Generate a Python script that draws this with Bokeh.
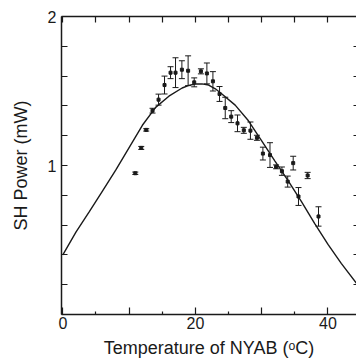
from bokeh.plotting import figure
from bokeh.models import (ColumnDataSource, Whisker, TeeHead, FixedTicker,
                          LinearAxis, Range1d)
from bokeh.embed import file_html
from bokeh.resources import INLINE

# Measured SH power data (temperature in degC, power in mW, error in mW)
temp = [10.93, 11.83, 12.58, 13.53, 14.44, 15.34, 16.25, 17.0, 17.96, 18.9,
        19.82, 20.83, 21.73, 22.64, 23.64, 24.5, 25.4, 26.35, 27.3, 28.3,
        29.28, 30.18, 31.25, 32.17, 33.05, 33.92, 34.75, 35.55, 36.93, 38.57]
power = [0.948, 1.118, 1.239, 1.368, 1.442, 1.54, 1.623, 1.623, 1.643, 1.636,
         1.558, 1.632, 1.618, 1.565, 1.48, 1.386, 1.328, 1.283, 1.236, 1.234,
         1.186, 1.08, 1.07, 0.991, 0.962, 0.892, 1.016, 0.792, 0.933, 0.658]
err = [0.008, 0.01, 0.008, 0.016, 0.037, 0.06, 0.04, 0.10, 0.06, 0.10,
       0.03, 0.017, 0.07, 0.065, 0.05, 0.072, 0.04, 0.056, 0.02, 0.058,
       0.017, 0.043, 0.083, 0.013, 0.028, 0.037, 0.046, 0.06, 0.021, 0.065]

# Theoretical curve
fit_temp = [0, 2, 4, 6, 8, 10, 12, 14, 16, 18, 19, 20, 21, 22, 23, 24, 26,
            28, 30, 32, 34, 36, 38, 40, 42, 44.3]
fit_power = [0.40, 0.555, 0.69, 0.83, 0.97, 1.12, 1.27, 1.39, 1.465, 1.52,
             1.538, 1.547, 1.548, 1.54, 1.515, 1.48, 1.405, 1.30, 1.165, 1.03,
             0.897, 0.757, 0.61, 0.47, 0.343, 0.21]

x_major = [0, 10, 20, 30, 40]
x_minor = [5, 15, 25, 35]
x_labels = {0: "0", 10: "", 20: "20", 30: "", 40: "40"}
x_all = [0, 5, 10, 15, 20, 25, 30, 35, 40]
y_major = [0, 1, 2]
y_minor = [0.2, 0.4, 0.6, 0.8, 1.2, 1.4, 1.6, 1.8]
y_labels = {0: "", 1: "1", 2: "2"}

FONT = "Liberation Sans"
INK = "#1a1a1a"

p = figure(width=356, height=362, output_backend="svg", toolbar_location=None,
           x_range=Range1d(-0.2, 44.3), y_range=Range1d(0, 2.0),
           min_border_left=61, min_border_right=0, min_border_top=16,
           min_border_bottom=48, x_axis_type=None, y_axis_type=None)
p.outline_line_color = None
p.xgrid.visible = False
p.ygrid.visible = False
p.background_fill_color = "white"
p.border_fill_color = "white"

# bottom axis
xb = LinearAxis(ticker=FixedTicker(ticks=x_major, minor_ticks=x_minor),
                major_label_overrides=x_labels,
                axis_label="Temperature of NYAB (ᵒC)")
# left axis
yl = LinearAxis(ticker=FixedTicker(ticks=y_major, minor_ticks=y_minor),
                major_label_overrides=y_labels, axis_label="SH Power (mW)")
# top axis (ticks only)
xt = LinearAxis(ticker=FixedTicker(ticks=x_all, minor_ticks=[]))
# right axis (ticks only)
yr = LinearAxis(ticker=FixedTicker(ticks=y_major + y_minor, minor_ticks=[]))

for ax in (xb, yl, xt, yr):
    ax.axis_line_color = INK
    ax.axis_line_width = 1.5
    ax.major_tick_line_color = INK
    ax.minor_tick_line_color = INK
    ax.major_tick_line_width = 1.2
    ax.minor_tick_line_width = 1.2
    ax.major_tick_out = 0
    ax.minor_tick_out = 0
    ax.major_label_text_font = FONT
    ax.major_label_text_font_size = "16px"
    ax.major_label_text_color = INK
    ax.axis_label_text_font = FONT
    ax.axis_label_text_font_size = "18px"
    ax.axis_label_text_font_style = "normal"
    ax.axis_label_text_color = INK

xb.major_tick_in = 7
xb.minor_tick_in = 3
xb.major_label_standoff = 2
xb.axis_label_standoff = 6
yl.major_tick_in = 6
yl.minor_tick_in = 6
yl.major_label_standoff = 5
yl.axis_label_standoff = 14
for ax in (xt, yr):
    ax.major_label_text_font_size = "1px"
    ax.major_label_text_color = None
    ax.major_label_standoff = 0
xt.major_tick_in = 6
yr.major_tick_in = 3
yr.axis_line_color = None

p.add_layout(xb, "below")
p.add_layout(yl, "left")
p.add_layout(xt, "above")
p.add_layout(yr, "right")

# theory curve
p.line(fit_temp, fit_power, line_color=INK, line_width=1.4)

# data with error bars
src = ColumnDataSource(data=dict(
    x=temp, y=power,
    upper=[v + e for v, e in zip(power, err)],
    lower=[v - e for v, e in zip(power, err)]))
wh = Whisker(source=src, base="x", upper="upper", lower="lower",
             line_color=INK, line_width=1,
             upper_head=TeeHead(size=6, line_color=INK, line_width=1),
             lower_head=TeeHead(size=6, line_color=INK, line_width=1))
p.add_layout(wh)
p.scatter("x", "y", source=src, marker="square", size=3,
          fill_color=INK, line_color=INK)

open("out.html", "w").write(file_html(p, INLINE))
